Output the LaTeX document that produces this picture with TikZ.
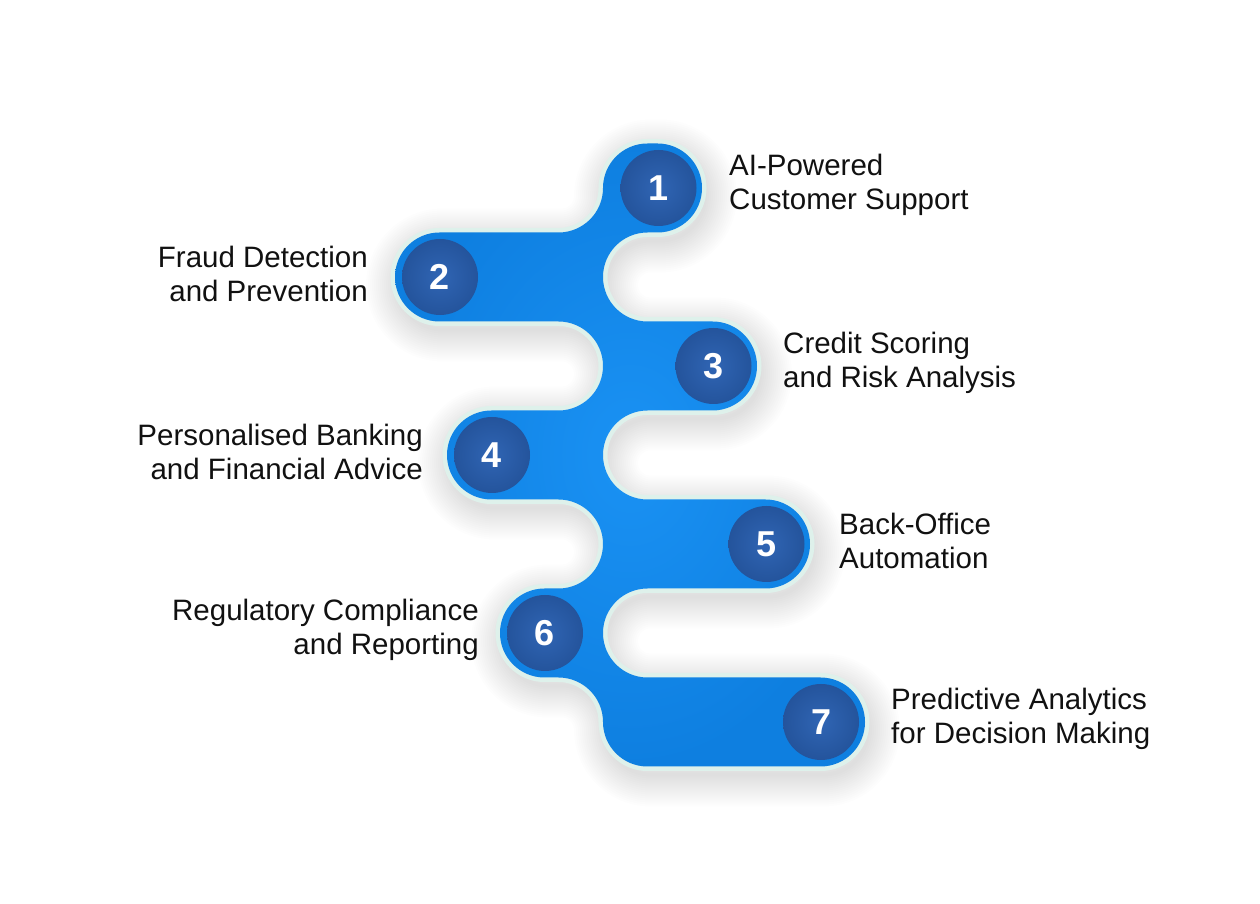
\documentclass[tikz,border=0pt]{standalone}
\usepackage{fontspec}
\setmainfont{Liberation Sans}
\definecolor{barlight}{RGB}{26,146,244}
\definecolor{bardark}{RGB}{14,127,224}
\definecolor{circlight}{RGB}{48,101,180}
\definecolor{circdark}{RGB}{36,84,156}
\definecolor{mintline}{RGB}{222,241,235}
\definecolor{labeltext}{RGB}{17,17,17}

\begin{document}
\begin{tikzpicture}[
  x=1pt, y=1pt,
  ribbon/.style={insert path={
    (647.5,760.5) -- (657.5,760.5) arc[start angle=90, end angle=-90, radius=44.5]
    -- (647.5,671.5) arc[start angle=90, end angle=270, radius=44.5]
    -- (712.5,582.5) arc[start angle=90, end angle=-90, radius=44.5]
    -- (647.5,493.5) arc[start angle=90, end angle=270, radius=44.5]
    -- (765.5,404.5) arc[start angle=90, end angle=-90, radius=44.5]
    -- (647.5,315.5) arc[start angle=90, end angle=270, radius=44.5]
    -- (820.5,226.5) arc[start angle=90, end angle=-90, radius=44.5]
    -- (647.5,137.5) arc[start angle=270, end angle=180, radius=44.5]
    arc[start angle=0, end angle=90, radius=44.5]
    -- (544.5,226.5) arc[start angle=270, end angle=90, radius=44.5]
    -- (558.5,315.5) arc[start angle=-90, end angle=90, radius=44.5]
    -- (491.5,404.5) arc[start angle=270, end angle=90, radius=44.5]
    -- (558.5,493.5) arc[start angle=-90, end angle=90, radius=44.5]
    -- (439.5,582.5) arc[start angle=270, end angle=90, radius=44.5]
    -- (558.5,671.5) arc[start angle=270, end angle=360, radius=44.5]
    arc[start angle=180, end angle=90, radius=44.5] -- cycle}},
  numcirc/.style={circle, minimum size=76pt, inner sep=0pt, inner color=circlight, outer color=circdark, text=white, font=\fontsize{36}{36}\selectfont\bfseries},
  rlabel/.style={anchor=west, align=left, inner sep=0pt, text=labeltext, font=\fontsize{29.5}{33.5}\selectfont},
  llabel/.style={anchor=east, align=right, inner sep=0pt, text=labeltext, font=\fontsize{29.5}{33.5}\selectfont}
]
  \fill[white] (0,0) rectangle (1260,904);
  \useasboundingbox (0,0) rectangle (1260,904);

  % soft shadow
  \foreach \w in {4,8,...,64}
    \draw[line width=\w, line join=round, black, opacity=0.008, shift={(3,-8)}, ribbon];

  % ribbon with mint rim
  \draw[mintline, line width=9, line join=round, ribbon];
  \shade[inner color=barlight, outer color=bardark, ribbon];

  % numbered circles
  \foreach \n/\x/\y in {1/658.5/716, 2/440/627, 3/713.5/538, 4/492/449, 5/766.5/360, 6/545/271, 7/821/182}
    \node[numcirc] (c\n) at (\x,\y) {\n};

  % labels
  \node[rlabel] (l1) at (729,719) {AI-Powered\\Customer Support};
  \node[llabel] (l2) at (368,630) {Fraud Detection\\and Prevention};
  \node[rlabel] (l3) at (783,541) {Credit Scoring\\and Risk Analysis};
  \node[llabel] (l4) at (423,452) {Personalised Banking\\and Financial Advice};
  \node[rlabel] (l5) at (839,363) {Back-Office\\Automation};
  \node[llabel] (l6) at (479,274) {Regulatory Compliance\\and Reporting};
  \node[rlabel] (l7) at (891,185) {Predictive Analytics\\for Decision Making};
\end{tikzpicture}
\end{document}
